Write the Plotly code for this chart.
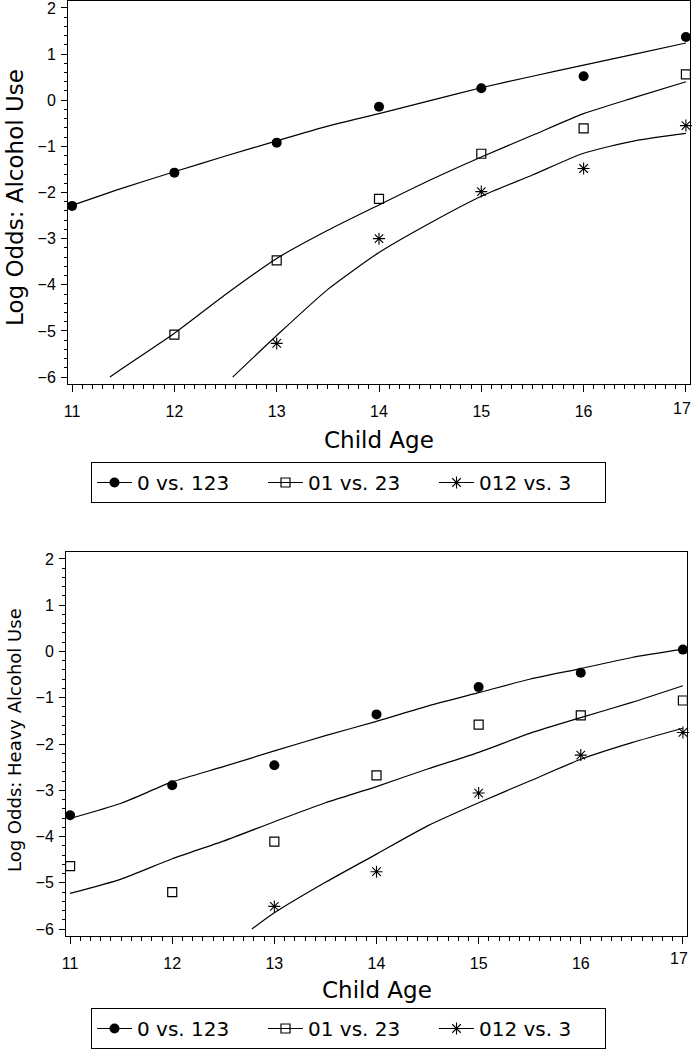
import plotly.graph_objects as go

# ---------------- data ----------------
ages = [11, 12, 13, 14, 15, 16, 17]
age_tick_labels = ["11", "12", "13", "14", "15", "16", "17"]
series_names = ["0 vs. 123", "01 vs. 23", "012 vs. 3"]

# Top panel: Log Odds: Alcohol Use (observed)
top_obs_a = [-2.29, -1.57, -0.92, -0.14, 0.26, 0.52, 1.37]
top_obs_b = [None, -5.08, -3.47, -2.14, -1.16, -0.61, 0.56]
top_obs_c = [None, None, -5.27, -3.00, -1.98, -1.48, -0.55]

# Top panel fitted curves
top_fit_a_x = [11, 11.5, 12, 12.5, 13, 13.5, 14, 14.5, 15, 15.5, 16, 16.5, 17]
top_fit_a_y = [-2.28, -1.90, -1.55, -1.21, -0.88, -0.56, -0.29, -0.01, 0.27, 0.52, 0.76, 1.00, 1.24]
top_fit_b_x = [11.37, 11.5, 12, 12.5, 13, 13.5, 14, 14.5, 15, 15.5, 16, 16.5, 17]
top_fit_b_y = [-6.0, -5.80, -5.05, -4.21, -3.43, -2.82, -2.27, -1.73, -1.23, -0.76, -0.29, 0.06, 0.40]
top_fit_c_x = [12.57, 13, 13.5, 14, 14.5, 15, 15.5, 16, 16.5, 17]
top_fit_c_y = [-6.0, -5.10, -4.10, -3.30, -2.66, -2.08, -1.62, -1.15, -0.88, -0.72]

# Bottom panel: Log Odds: Heavy Alcohol Use (observed)
bot_obs_a = [-3.54, -2.89, -2.46, -1.36, -0.77, -0.46, 0.04]
bot_obs_b = [-4.64, -5.20, -4.11, -2.68, -1.58, -1.38, -1.06]
bot_obs_c = [None, None, -5.51, -4.76, -3.06, -2.24, -1.75]

# Bottom panel fitted curves
bot_fit_x = [11, 11.5, 12, 12.5, 13, 13.5, 14, 14.5, 15, 15.5, 16, 16.5, 17]
bot_fit_a_y = [-3.61, -3.28, -2.82, -2.49, -2.15, -1.82, -1.51, -1.18, -0.89, -0.60, -0.37, -0.13, 0.05]
bot_fit_b_y = [-5.23, -4.92, -4.48, -4.10, -3.68, -3.27, -2.92, -2.54, -2.18, -1.77, -1.43, -1.10, -0.74]
bot_fit_c_x = [12.78, 13, 13.5, 14, 14.5, 15, 15.5, 16, 16.5, 17]
bot_fit_c_y = [-6.0, -5.65, -4.99, -4.38, -3.77, -3.27, -2.80, -2.33, -1.97, -1.66]

# ---------------- styling ----------------
FONT = "DejaVu Sans"
TICKFONT = "Liberation Sans"
W, H = 693, 1050
markers = [
    dict(symbol="circle", size=10, color="black", line=dict(color="black", width=0)),
    dict(symbol="square-open", size=9, color="black", line=dict(color="black", width=1.2)),
    dict(symbol="asterisk-open", size=10, color="black", line=dict(color="black", width=1.1)),
]
line_style = dict(color="black", width=1.2, shape="spline", smoothing=0.6)

fig = go.Figure()

panels = [
    ("x", "y", "legend",
     [top_obs_a, top_obs_b, top_obs_c],
     [(top_fit_a_x, top_fit_a_y), (top_fit_b_x, top_fit_b_y), (top_fit_c_x, top_fit_c_y)]),
    ("x2", "y2", "legend2",
     [bot_obs_a, bot_obs_b, bot_obs_c],
     [(bot_fit_x, bot_fit_a_y), (bot_fit_x, bot_fit_b_y), (bot_fit_c_x, bot_fit_c_y)]),
]

for xa, ya, lg, obs, fits in panels:
    for i in range(3):
        fx, fy = fits[i]
        fig.add_trace(go.Scatter(x=fx, y=fy, mode="lines", line=line_style,
                                 xaxis=xa, yaxis=ya, showlegend=False, hoverinfo="skip"))
        fig.add_trace(go.Scatter(x=ages, y=obs[i], mode="markers", marker=markers[i],
                                 xaxis=xa, yaxis=ya, showlegend=False, cliponaxis=False))
    for i in range(3):
        fig.add_trace(go.Scatter(x=[None], y=[None], mode="lines+markers",
                                 marker=markers[i], line=dict(color="black", width=1),
                                 name=series_names[i], xaxis=xa, yaxis=ya,
                                 legend=lg, showlegend=True))

tickfont = dict(family=TICKFONT, size=16, color="black")
# last tick label drawn separately (shifted left so it stays inside the page)
axis_tick_text = age_tick_labels[:-1] + [""]

def xaxis_cfg(domain, anchor):
    return dict(domain=domain, anchor=anchor, range=[10.96, 17.04],
                tickvals=ages, ticktext=axis_tick_text,
                ticks="outside", ticklen=7, tickwidth=1, tickcolor="black",
                showline=True, linecolor="black", linewidth=1, mirror=True,
                showgrid=False, zeroline=False, tickfont=tickfont,
                ticklabelstandoff=6, automargin=False, ticklabeloverflow="allow",
                minor=dict(dtick=0.1, ticks="outside", ticklen=4, tickwidth=1,
                           tickcolor="black", showgrid=False))

def yaxis_cfg(domain, anchor):
    return dict(domain=domain, anchor=anchor, range=[-6.15, 2.15], tick0=0, dtick=1,
                ticks="outside", ticklen=6, tickwidth=1, tickcolor="black",
                showline=True, linecolor="black", linewidth=1, mirror=True,
                showgrid=False, zeroline=False, tickfont=tickfont,
                ticklabelstandoff=2, automargin=False, ticklabeloverflow="allow",
                minor=dict(dtick=0.2, ticks="outside", ticklen=3, tickwidth=1,
                           tickcolor="black", showgrid=False))

legend_common = dict(orientation="h", xanchor="left", yanchor="top",
                     bordercolor="black", borderwidth=1, bgcolor="white",
                     font=dict(family=FONT, size=20, color="black"),
                     itemwidth=35, entrywidth=121, entrywidthmode="pixels")

annotations = [
    dict(text="Child Age", xref="paper", yref="paper", x=379 / W, y=1 - 440 / H,
         showarrow=False, font=dict(family=FONT, size=23, color="black"),
         xanchor="center", yanchor="middle"),
    dict(text="Child Age", xref="paper", yref="paper", x=377 / W, y=1 - 990 / H,
         showarrow=False, font=dict(family=FONT, size=23, color="black"),
         xanchor="center", yanchor="middle"),
    dict(text="Log Odds: Alcohol Use", xref="paper", yref="paper", x=15 / W, y=1 - 198 / H,
         showarrow=False, textangle=-90, font=dict(family=FONT, size=23, color="black"),
         xanchor="center", yanchor="middle"),
    dict(text="Log Odds: Heavy Alcohol Use", xref="paper", yref="paper", x=14 / W,
         y=1 - 740 / H, showarrow=False, textangle=-90,
         font=dict(family=FONT, size=18, color="black"),
         xanchor="center", yanchor="middle"),
]
# last tick label of each x axis, anchored to the axis value
for xr, ylab in (("x", 408), ("x2", 958)):
    annotations.append(dict(text=age_tick_labels[-1], xref=xr, yref="paper", x=ages[-1],
                            y=1 - ylab / H, xshift=-4, showarrow=False,
                            font=tickfont, xanchor="center", yanchor="middle"))

fig.update_layout(
    width=W, height=H,
    margin=dict(l=0, r=0, t=0, b=0, autoexpand=False),
    paper_bgcolor="white", plot_bgcolor="white",
    font=dict(family=FONT, color="black"),
    xaxis=xaxis_cfg([68 / W, 690 / W], "y"),
    yaxis=yaxis_cfg([1 - 384 / H, 1 - 1 / H], "x"),
    xaxis2=xaxis_cfg([66 / W, 687 / W], "y2"),
    yaxis2=yaxis_cfg([1 - 936 / H, 1 - 552 / H], "x2"),
    legend=dict(x=91 / W, y=1 - 462 / H, **legend_common),
    legend2=dict(x=91 / W, y=1 - 1008 / H, **legend_common),
    annotations=annotations,
)

fig.write_html("out.html", config={"displayModeBar": False},
               post_script="document.body.style.margin='0';document.body.style.overflow='hidden';")
